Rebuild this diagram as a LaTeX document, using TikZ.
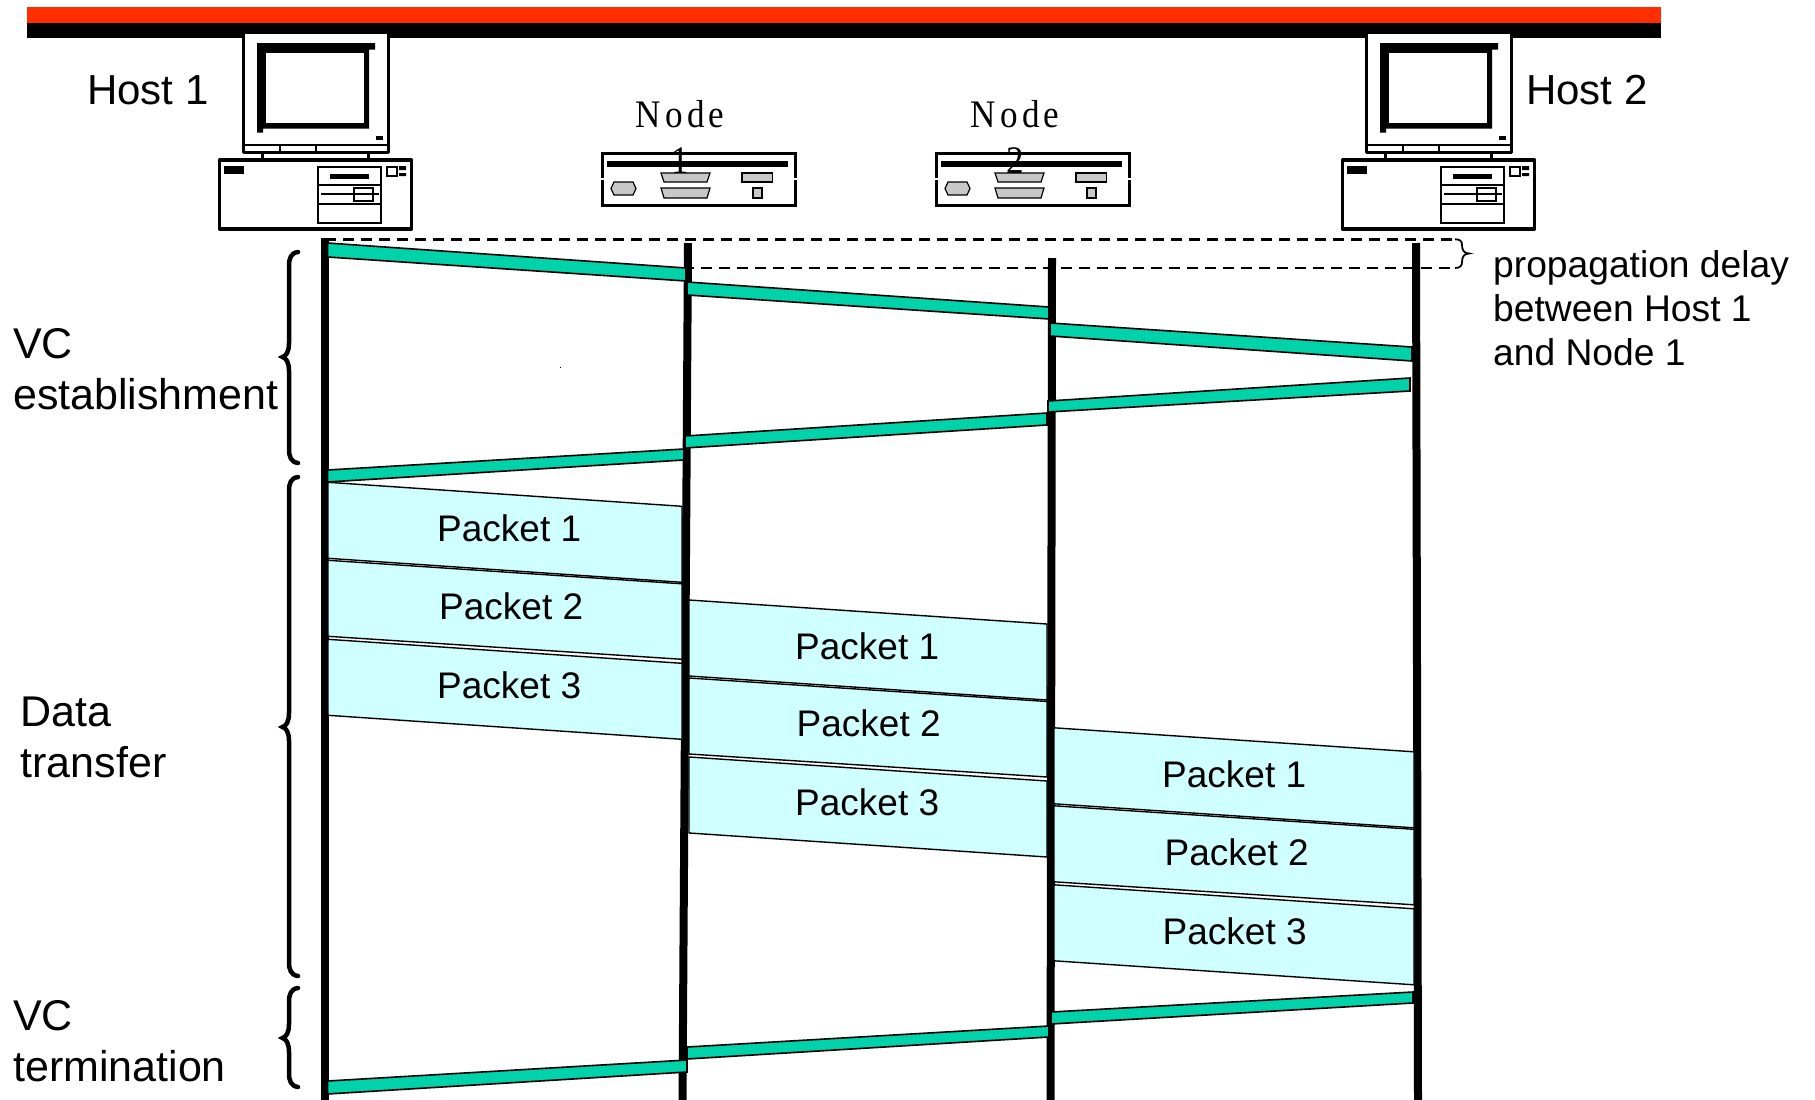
\documentclass[tikz,border=0pt]{standalone}
\usepackage{fontspec}
\setmainfont{Liberation Sans}
\newfontfamily\devicefont[FakeStretch=0.9,LetterSpace=11]{Liberation Serif}
\definecolor{vcgreen}{HTML}{00D2AA}
\definecolor{pktcyan}{HTML}{D0FFFF}
\definecolor{bargray}{HTML}{C8C8C8}
\definecolor{topred}{HTML}{FF2E00}
\tikzset{
  lifeline/.style={line width=8pt,black},
  vcbar/.style={fill=vcgreen,draw=black,line width=1.6pt,line join=miter},
  packetbox/.style={fill=pktcyan,draw=black,line width=1.4pt},
  pktlabel/.style={anchor=base west,inner sep=0pt,font=\fontsize{37}{37}\selectfont},
  bigtext/.style={anchor=base west,inner sep=0pt,align=left,font=\fontsize{43}{51}\selectfont},
  hosttext/.style={anchor=base west,inner sep=0pt,font=\fontsize{42}{42}\selectfont},
  smalltext/.style={anchor=base west,inner sep=0pt,align=left,font=\fontsize{37.2}{44}\selectfont},
  devtext/.style={anchor=base,inner sep=0pt,align=center,font=\devicefont\fontsize{39}{46}\selectfont},
  bracestroke/.style={line width=4.5pt,line cap=round,draw=black},
  delayline/.style={line width=2.5pt,dash pattern=on 10.7pt off 7.3pt},
  computer/.pic={
    % monitor
    \draw[fill=white,line width=3pt,line join=round] (243,32) rectangle (388,152);
    \fill[black] (257,43) -- (375,43) -- (375,49.5) -- (369,49.5) -- (369,128.5) -- (263,128.5) -- (263,132.5) -- (257,132.5) -- cycle;
    \fill[white] (266,53) rectangle (364,123);
    \fill[black] (376,136) rectangle (383,140);
    \draw[line width=1.4pt] (243,145) -- (388,145) (280,145) -- (280,151) (316,145) -- (316,151);
    \draw[line width=3pt] (262,152) -- (262,160) (368,152) -- (368,160);
    % case
    \draw[fill=white,line width=3.2pt,line join=round] (219.5,160) rectangle (411.5,229);
    \fill[black] (224,166) rectangle (244,174);
    \draw[line width=1.5pt] (318,167) rectangle (381,223) (318,185) -- (381,185) (318,204) -- (381,204);
    \fill[black] (330,174) rectangle (369,179);
    \draw[line width=1.5pt] (321,194) -- (379,194) (354,188) rectangle (373,201) (387,167) rectangle (397,176);
    \fill[black] (399,166) rectangle (406,170) (399,173) rectangle (406,176);
  },
  router/.pic={
    \draw[fill=white,line width=3pt] (602,153) rectangle (795,205);
    \draw[white,line width=3.2pt] (602,177.5) -- (602,179.5) (795,177.5) -- (795,179.5);
    \fill[black] (607,161) rectangle (787.5,167);
    \begin{scope}[fill=bargray,draw=black,line width=1.2pt]
      \filldraw (611,188.5) -- (614,182) -- (633,182) -- (636,188.5) -- (633,195) -- (614,195) -- cycle;
      \filldraw (661,173) -- (710,173) -- (707,182) -- (664,182) -- cycle;
      \filldraw (661,188) -- (710,188) -- (707,198) -- (664,198) -- cycle;
      \filldraw (742,173) rectangle (772.5,182);
      \filldraw (753,188) rectangle (762,198);
    \end{scope}
  }
}
\newcommand{\leftbrace}[4]{% spine x, top, tip, bottom
  \draw[bracestroke] (#1+9,#2) .. controls (#1+2,#2+1) and (#1,#2+6) .. (#1,#2+14)
    -- (#1,#3-14) .. controls (#1,#3-5) and (#1-3,#3-1) .. (#1-6.5,#3)
    .. controls (#1-3,#3+1) and (#1,#3+5) .. (#1,#3+14)
    -- (#1,#4-14) .. controls (#1,#4-6) and (#1+2,#4-1) .. (#1+9,#4);
}
\begin{document}
\begin{tikzpicture}[x=1pt,y=-1pt]
\useasboundingbox (0,0) rectangle (1815,1100);
% top bars
\fill[topred] (27,7) rectangle (1661,23);
\fill[black] (27,23) rectangle (1661,38);
% devices
\pic (hostone) at (0,0) {computer};
\pic (hosttwo) at (1123,0) {computer};
\pic (nodeone) at (0,0) {router};
\pic (nodetwo) at (334,0) {router};
\node[hosttext] (hostonelabel) at (87,104.5) {Host 1};
\node[hosttext] (hosttwolabel) at (1526,104.5) {Host 2};
\node[devtext] (nodeonelabel) at (680,173) {Node\\1};
\node[devtext] (nodetwolabel) at (1015,173) {Node\\2};
% lifeline ends
\coordinate (la) at (324.5,238);  \coordinate (lae) at (324.5,1100);
\coordinate (lb) at (688,243);  \coordinate (lbe) at (682.5,1100);
\coordinate (lc) at (1052,258); \coordinate (lce) at (1050.5,1100);
\coordinate (ld) at (1416,243); \coordinate (lde) at (1418,1100);
% delay marks
\coordinate (da) at (325,239.3);  \coordinate (db) at (1455,239.3);
\coordinate (dc) at (683,268);  \coordinate (dd) at (1455,268);
\draw[delayline] (da) -- (db);
\draw[delayline] (dc) -- (dd);
\draw[line width=1.8pt] (db) .. controls (1460,239.3) and (1462,241) .. (1462,245)
  .. controls (1462,250) and (1464,253.5) .. (1469,253.5)
  .. controls (1464,253.5) and (1462,257) .. (1462,262)
  .. controls (1462,266) and (1460,268) .. (dd);
% lifelines
\draw[lifeline] (la) -- (lae);
\draw[lifeline] (lb) -- (lbe);
\draw[lifeline] (lc) -- (lce);
\draw[lifeline] (ld) -- (lde);
% packets
\foreach \xl/\xr/\dy in {328/682/-0.7, 689/1047/117, 1054/1414/244.8}{
  \begin{scope}[yshift=-\dy pt]
    \filldraw[packetbox] (\xl,483) -- (\xr,507) -- (\xr,583) -- (\xl,559) -- cycle;
    \filldraw[packetbox] (\xl,561) -- (\xr,584.5) -- (\xr,660) -- (\xl,637) -- cycle;
    \filldraw[packetbox] (\xl,640) -- (\xr,664) -- (\xr,740) -- (\xl,716) -- cycle;
  \end{scope}
}
\node[pktlabel] (aone) at (437,541.5) {Packet 1};
\node[pktlabel] (atwo) at (439,619.5) {Packet 2};
\node[pktlabel] (athree) at (437,698) {Packet 3};
\node[pktlabel] (bone) at (795,659) {Packet 1};
\node[pktlabel] (btwo) at (796.5,736.5) {Packet 2};
\node[pktlabel] (bthree) at (795,815) {Packet 3};
\node[pktlabel] (cone) at (1162,787) {Packet 1};
\node[pktlabel] (ctwo) at (1164.5,865) {Packet 2};
\node[pktlabel] (cthree) at (1162.5,944) {Packet 3};
% VC bars
\filldraw[vcbar] (327.5,243) -- (686,268) -- (686,281) -- (327.5,257) -- cycle;
\filldraw[vcbar] (687,282) -- (1049,307) -- (1049,319) -- (687,295) -- cycle;
\filldraw[vcbar] (1050,323) -- (1412,347) -- (1412,361) -- (1050,336) -- cycle;
\filldraw[vcbar] (1410,378) -- (1048,401) -- (1048,412) -- (1410,391) -- cycle;
\filldraw[vcbar] (1047,413) -- (685,436) -- (685,448) -- (1047,425) -- cycle;
\filldraw[vcbar] (684,449) -- (327.5,470) -- (327.5,482) -- (684,460) -- cycle;
\filldraw[vcbar] (1413,992) -- (1051,1012) -- (1051,1024) -- (1413,1003) -- cycle;
\filldraw[vcbar] (1049,1026) -- (687,1047) -- (687,1059) -- (1049,1037) -- cycle;
\filldraw[vcbar] (687,1060) -- (327.5,1081) -- (327.5,1094) -- (687,1072) -- cycle;
% speck
\fill[black] (559.5,366.5) rectangle (561,368);
% braces and labels
\leftbrace{289}{252}{357}{463}
\leftbrace{289}{477}{727}{976}
\leftbrace{289}{988}{1038}{1087}
\node[bigtext] (vcest) at (13,409) {VC\\establishment};
\node[bigtext] (data) at (20.5,777.5) {Data\\transfer};
\node[bigtext] (vcterm) at (13,1081.5) {VC\\termination};
\node[smalltext] (prop) at (1493,365) {propagation delay\\between Host 1\\and Node 1};
\end{tikzpicture}
\end{document}
